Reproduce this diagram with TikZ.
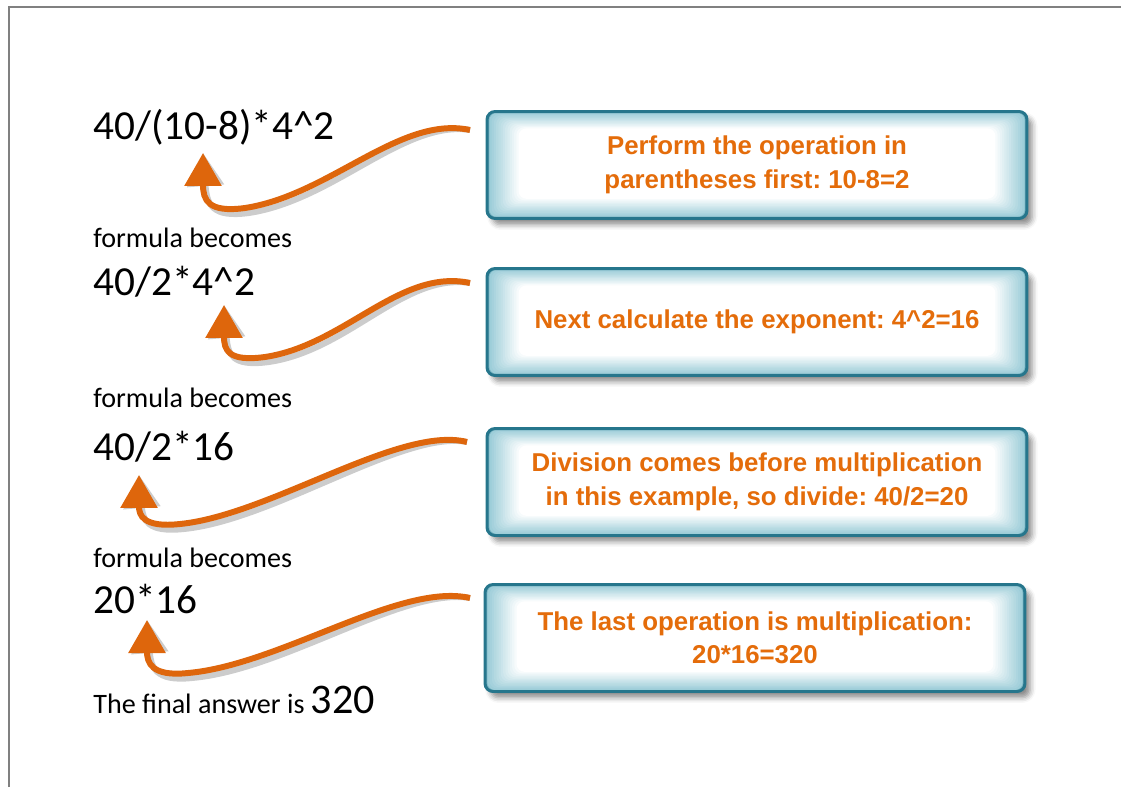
\documentclass[tikz,border=0pt]{standalone}
\usepackage{fontspec}
\newfontfamily\calfont{Carlito}
\newfontfamily\arialfont{Liberation Sans}
\usetikzlibrary{arrows.meta,shadows.blur}
\definecolor{stepor}{RGB}{228,108,10}
\definecolor{arrowor}{RGB}{222,102,12}
\definecolor{boxrim}{RGB}{38,118,140}
\definecolor{boxglowc}{RGB}{150,202,214}
\definecolor{framegray}{RGB}{128,128,128}
\frenchspacing

\begin{document}
\begin{tikzpicture}[x=0.02cm,y=-0.02cm,
  formula/.style={anchor=base west,inner sep=0pt,font=\calfont\fontsize{23.5}{26}\selectfont},
  becomes/.style={anchor=base west,inner sep=0pt,font=\calfont\fontsize{16}{19}\selectfont},
  stepbox/.style={draw=boxrim,line width=1.7pt,rounded corners=0.16cm,fill=boxglowc!75!boxrim,
    path picture={\foreach \i [evaluate=\i as \p using int(100*\i/14)] in {1,...,14}
      \fill[white!\p!boxglowc,rounded corners=0.16cm]
        ([shift={({0.045*\i*1cm},{-0.024*\i*1cm})}]path picture bounding box.north west) rectangle
        ([shift={({-0.045*\i*1cm},{0.028*\i*1cm})}]path picture bounding box.south east);},
    minimum width=10.8cm,minimum height=2.14cm,align=center,text=stepor,
    font=\arialfont\bfseries\fontsize{14.7}{19}\selectfont,
    blur shadow={shadow xshift=3pt,shadow yshift=-3.5pt,shadow blur radius=3pt,shadow opacity=45}},
  curvearr/.style={draw=arrowor,line width=3.4pt,-{Triangle[length=0.66cm,width=0.72cm]}},
  curveshadow/.style={curvearr,draw=black,opacity=0.2,shift={(4,5)}}]
\useasboundingbox (0,0) rectangle (1121,787);
\draw[framegray,line width=1.7pt] (9,787) -- (9,7) -- (1121,7);
% left column
\node[formula] (f1) at (93,140) {40/(10-8)*4\textasciicircum 2};
\node[becomes] (fb1) at (93,247) {formula becomes};
\node[formula] (f2) at (93,295) {40/2*4\textasciicircum 2};
\node[becomes] (fb2) at (93,407) {formula becomes};
\node[formula] (f3) at (93,460) {40/2*16};
\node[becomes] (fb3) at (93,567) {formula becomes};
\node[formula] (f4) at (93,613) {20*16};
\node[becomes] (ans) at (93,713) {The final answer is {\fontsize{24}{26}\selectfont 320}};
% right column
\node[stepbox] (box1) at (757,165) {Perform the operation in\\parentheses first: 10-8=2};
\node[stepbox] (box2) at (757,322) {Next calculate the exponent: 4\textasciicircum 2=16};
\node[stepbox] (box3) at (757,482) {Division comes before multiplication\\in this example, so divide: 40/2=20};
\node[stepbox] (box4) at (755,638) {The last operation is multiplication:\\20*16=320};
% arrow ends
\coordinate (s1) at (470,130);
\coordinate (t1) at (203,153);
\coordinate (s2) at (470,283);
\coordinate (t2) at (224,305);
\coordinate (s3) at (467,442);
\coordinate (t3) at (139,475);
\coordinate (s4) at (470,598);
\coordinate (t4) at (147,620);
% curved arrows
\draw[curveshadow] (s1) .. controls (400,115) and (330,195) .. (245,208) .. controls (208,213) and (203,200) .. (t1);
\draw[curvearr] (s1) .. controls (400,115) and (330,195) .. (245,208) .. controls (208,213) and (203,200) .. (t1);
\draw[curveshadow] (s2) .. controls (400,268) and (345,345) .. (265,357) .. controls (228,362) and (224,350) .. (t2);
\draw[curvearr] (s2) .. controls (400,268) and (345,345) .. (265,357) .. controls (228,362) and (224,350) .. (t2);
\draw[curveshadow] (s3) .. controls (400,425) and (270,515) .. (180,524) .. controls (143,528) and (139,515) .. (t3);
\draw[curvearr] (s3) .. controls (400,425) and (270,515) .. (180,524) .. controls (143,528) and (139,515) .. (t3);
\draw[curveshadow] (s4) .. controls (400,582) and (280,665) .. (188,673) .. controls (151,677) and (147,662) .. (t4);
\draw[curvearr] (s4) .. controls (400,582) and (280,665) .. (188,673) .. controls (151,677) and (147,662) .. (t4);
\end{tikzpicture}
\end{document}
